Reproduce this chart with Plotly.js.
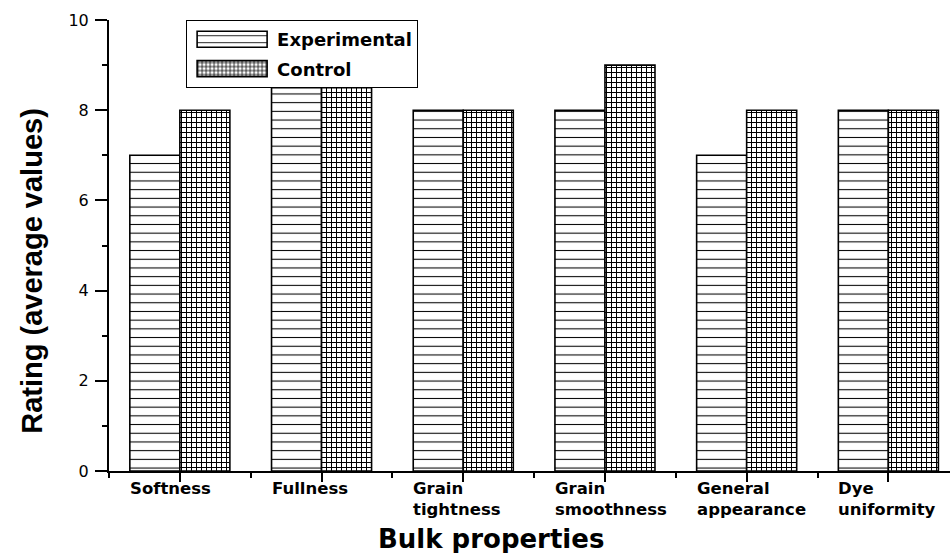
<!DOCTYPE html>
<html>
<head>
<meta charset="utf-8">
<script src="https://cdn.plot.ly/plotly-3.0.1.min.js"></script>
<style>
  html, body { margin: 0; padding: 0; background: #fff; overflow: hidden; }
  #chart { width: 950px; height: 553px; }
</style>
</head>
<body>
<div id="chart"></div>
<script>
const categories = ['Softness', 'Fullness', 'Grain tightness', 'Grain smoothness', 'General appearance', 'Dye uniformity'];
const tickLabels = ['Softness', 'Fullness', 'Grain<br>tightness', 'Grain<br>smoothness', 'General<br>appearance', 'Dye<br>uniformity'];
const experimental = [7, 8.5, 8, 8, 7, 8];
const control = [8, 8.5, 8, 9, 8, 8];
const seriesNames = ['Experimental', 'Control'];

const FONT = 'Liberation Sans, Arial, Helvetica, sans-serif';
const WIDE = 'DejaVu Sans, Liberation Sans, Arial, sans-serif';
const xIndex = categories.map((c, i) => i);

const traces = [
  {
    type: 'bar', name: seriesNames[0], x: xIndex, y: experimental,
    text: categories, textposition: 'none',
    legendgroup: 'a',
    marker: {
      color: 'white',
      line: {color: 'black', width: 1.6},
      pattern: {shape: '-', size: 8.7, solidity: 0.12, fgcolor: 'black', bgcolor: 'white', fillmode: 'replace'}
    },
    hoverinfo: 'skip'
  },
  {
    type: 'bar', name: seriesNames[1], x: xIndex, y: control,
    text: categories, textposition: 'none',
    legendgroup: 'b',
    marker: {
      color: 'white',
      line: {color: 'black', width: 1.6},
      pattern: {shape: '+', size: 5, solidity: 0.36, fgcolor: 'black', bgcolor: 'white', fillmode: 'replace'}
    },
    hoverinfo: 'skip'
  }
];

const annotations = tickLabels.map((t, i) => ({
  text: t, x: xIndex[i], xref: 'x', y: 0, yref: 'paper',
  xanchor: 'left', yanchor: 'top', align: 'left', xshift: -52, yshift: -6,
  showarrow: false, font: {family: WIDE, size: 16.5, color: 'black', weight: 'bold'}
}));
annotations.push({
  text: 'Bulk properties', x: 0.4543, xref: 'paper', y: 0, yref: 'paper',
  xanchor: 'center', yanchor: 'middle', yshift: -68, showarrow: false,
  font: {family: WIDE, size: 26, color: 'black', weight: 'bold'}
});
annotations.push({
  text: 'Rating (average values)', x: -0.0909, xref: 'paper', y: 0.443, yref: 'paper',
  xanchor: 'center', yanchor: 'middle', textangle: -90, showarrow: false,
  font: {family: FONT, size: 29, color: 'black', weight: 'bold'}
});

const layout = {
  width: 950, height: 553,
  margin: {l: 108.5, r: 0, t: 20, b: 81.5, pad: 0},
  paper_bgcolor: 'white', plot_bgcolor: 'white',
  barmode: 'group', bargap: 0.294, bargroupgap: 0,
  font: {family: FONT, color: 'black'},
  showlegend: true,
  legend: {
    x: 0.0917, y: 1, xanchor: 'left', yanchor: 'top',
    bordercolor: 'black', borderwidth: 1, bgcolor: 'white',
    font: {family: WIDE, size: 18, color: 'black', weight: 'bold'},
    traceorder: 'grouped', tracegroupgap: 3, itemwidth: 80
  },
  xaxis: {
    type: 'linear', range: [-0.5, 5.435], autorange: false,
    tickmode: 'linear', tick0: 0, dtick: 1,
    showline: true, linecolor: 'black', linewidth: 2,
    ticks: 'outside', ticklen: 9, tickwidth: 2, tickcolor: 'black',
    minor: {ticks: 'outside', ticklen: 5, dtick: 0.5, tick0: 0, tickwidth: 2, tickcolor: 'black', showgrid: false},
    showticklabels: false, showgrid: false, zeroline: false, fixedrange: true
  },
  yaxis: {
    range: [0, 10], autorange: false,
    tickmode: 'linear', tick0: 0, dtick: 2,
    showline: true, linecolor: 'black', linewidth: 2,
    ticks: 'outside', ticklen: 12, tickwidth: 2, tickcolor: 'black',
    minor: {ticks: 'outside', ticklen: 5.5, dtick: 1, tickwidth: 2, tickcolor: 'black', showgrid: false},
    tickfont: {family: WIDE, size: 16, color: 'black'}, ticklabelstandoff: 3,
    showgrid: false, zeroline: false, fixedrange: true
  },
  annotations: annotations
};

Plotly.newPlot('chart', traces, layout, {staticPlot: true, displayModeBar: false}).then(() => {
  document.querySelectorAll('#chart .legend .legendpoints path').forEach(p => {
    p.setAttribute('d', 'M35,8H-35V-8H35Z');
  });
});
</script>
</body>
</html>
